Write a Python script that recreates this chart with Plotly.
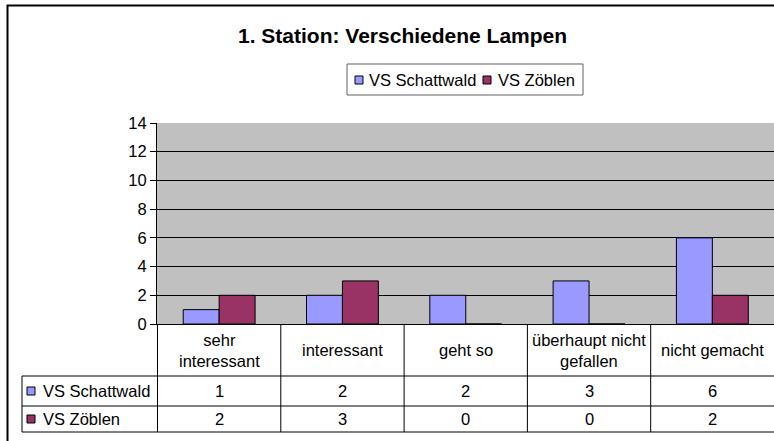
import plotly.graph_objects as go

# data
categories = ["sehr interessant", "interessant", "geht so",
              "überhaupt nicht gefallen", "nicht gemacht"]
category_labels = ["sehr<br>interessant", "interessant", "geht so",
                   "überhaupt nicht<br>gefallen", "nicht gemacht"]
series_names = ["VS Schattwald", "VS Zöblen"]
schattwald = [1, 2, 2, 3, 6]
zoeblen = [2, 3, 0, 0, 2]
colors = ["#9999FF", "#993366"]

W, H = 774, 441
PL, PT, PR, PB = 157, 123, 0, 117  # plot area margins in px
FONT = "Liberation Sans, Arial, sans-serif"


def px(x):
    return (x - PL) / (W - PL - PR)


def py(y):
    return (H - PB - y) / (H - PT - PB)


fig = go.Figure()
for name, vals, col in zip(series_names, [schattwald, zoeblen], colors):
    fig.add_trace(go.Bar(
        name=name, x=categories, y=vals,
        marker=dict(color=col, line=dict(color="black", width=1)),
        showlegend=False,
    ))

shapes = []
annotations = []

# outer chart frame (right and bottom edges fall outside the picture)
shapes.append(dict(type="rect", xref="paper", yref="paper",
                   x0=px(7.5), x1=px(800), y0=py(470), y1=py(5.5),
                   line=dict(color="black", width=2)))

# title
annotations.append(dict(text="<b>1. Station: Verschiedene Lampen</b>",
                        xref="paper", yref="paper", x=px(402), y=py(35),
                        xanchor="center", yanchor="middle", showarrow=False,
                        font=dict(size=21, color="black")))

# legend box
shapes.append(dict(type="rect", xref="paper", yref="paper",
                   x0=px(347), x1=px(583), y0=py(95), y1=py(64),
                   line=dict(color="#606060", width=1), fillcolor="white"))
for name, col, sx, tx in zip(series_names, colors, [355, 483], [367, 496]):
    shapes.append(dict(type="rect", xref="paper", yref="paper",
                       x0=px(sx), x1=px(sx + 8), y0=py(84), y1=py(76),
                       line=dict(color="black", width=1), fillcolor=col))
    annotations.append(dict(text=name, xref="paper", yref="paper",
                            x=px(tx), y=py(80), xanchor="left", yanchor="middle",
                            showarrow=False, font=dict(size=16.5, color="black")))

# data table under the plot
row_lines = [376, 406, 432]
for yl in row_lines:
    shapes.append(dict(type="line", xref="paper", yref="paper",
                       x0=px(22), x1=px(780), y0=py(yl), y1=py(yl),
                       line=dict(color="black", width=1)))
shapes.append(dict(type="line", xref="paper", yref="paper",
                   x0=px(22), x1=px(22), y0=py(376), y1=py(432),
                   line=dict(color="black", width=1)))
for i in range(len(categories)):
    shapes.append(dict(type="line", xref="x", yref="paper",
                       x0=i - 0.5, x1=i - 0.5, y0=py(324), y1=py(432),
                       line=dict(color="black", width=1)))

for cat, lab in zip(categories, category_labels):
    annotations.append(dict(text=lab, xref="x", yref="paper", x=cat, y=py(350),
                            xanchor="center", yanchor="middle", showarrow=False,
                            font=dict(size=16.5, color="black")))

for name, col, vals, yc in zip(series_names, colors, [schattwald, zoeblen], [391, 419]):
    shapes.append(dict(type="rect", xref="paper", yref="paper",
                       x0=px(27), x1=px(35), y0=py(yc + 4), y1=py(yc - 4),
                       line=dict(color="black", width=1), fillcolor=col))
    annotations.append(dict(text=name, xref="paper", yref="paper", x=px(41), y=py(yc),
                            xanchor="left", yanchor="middle", showarrow=False,
                            font=dict(size=16.5, color="black")))
    for cat, v in zip(categories, vals):
        annotations.append(dict(text=str(v), xref="x", yref="paper", x=cat, y=py(yc),
                                xanchor="center", yanchor="middle", showarrow=False,
                                font=dict(size=16.5, color="black")))

fig.update_layout(
    width=W, height=H, autosize=False,
    margin=dict(l=PL, r=PR, t=PT, b=PB, pad=0),
    paper_bgcolor="white", plot_bgcolor="#C0C0C0",
    font=dict(family=FONT, size=16, color="black"),
    barmode="group", bargap=0.417, bargroupgap=0,
    shapes=shapes, annotations=annotations,
)
fig.update_xaxes(showticklabels=False, showline=True, linecolor="black",
                 linewidth=1, ticks="", showgrid=False)
fig.update_yaxes(range=[0, 14], dtick=2, tick0=0, showline=True,
                 linecolor="black", linewidth=1, ticks="outside", ticklen=6,
                 tickcolor="black", gridcolor="black", gridwidth=1,
                 zeroline=False, tickfont=dict(size=16.5))

# page body has a default margin; drop it so the figure fills the window
fig.write_html("out.html", config={"displayModeBar": False},
               post_script="document.body.style.margin='0';")
